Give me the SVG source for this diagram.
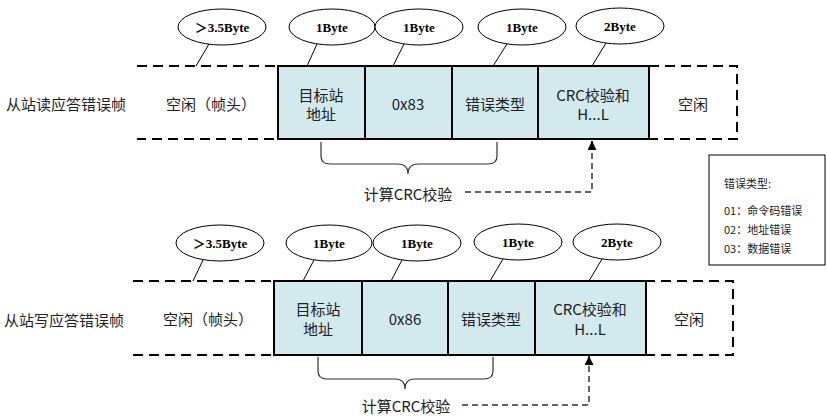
<svg xmlns="http://www.w3.org/2000/svg" width="827" height="416" viewBox="0 0 827 416">
<style>
.t{font-family:"Noto Sans CJK SC","Noto Sans",sans-serif;font-size:15px;fill:#222;dominant-baseline:central}
.c{text-anchor:middle}
.b{font-family:"Liberation Serif","Noto Sans CJK SC",serif;font-size:13px;font-weight:bold;fill:#000;text-anchor:middle;dominant-baseline:central}
.l{font-family:"Noto Sans CJK SC","Noto Sans",sans-serif;font-size:11px;fill:#222;dominant-baseline:central}
.frame{fill:none;stroke:#000;stroke-width:2;stroke-dasharray:10 6}
.cell{fill:#D2E9EE;stroke:#000;stroke-width:2}
.ell{fill:#fff;stroke:#000;stroke-width:1}
.lead{stroke:#000;stroke-width:1;fill:none}
.brace{fill:none;stroke:#333;stroke-width:1.2}
.dash{fill:none;stroke:#333;stroke-width:1.5;stroke-dasharray:6 4}
</style>
<defs>
<marker id="arr" viewBox="0 0 10 10" refX="10" refY="5" markerWidth="9" markerHeight="9" markerUnits="userSpaceOnUse" orient="auto">
<path d="M0,0 L10,5 L0,10 z" fill="#000"/>
</marker>
</defs>

<!-- Row 1 -->
<g id="row1-label"><text class="t" x="6" y="103">从站读应答错误帧</text></g>
<g id="row1-frame"><path class="frame" d="M137,66 H737 V139 H137"/></g>
<g id="row1-idle-head"><text class="t" x="166" y="103">空闲（帧头）</text></g>
<g id="row1-addr"><rect class="cell" x="278" y="66" width="87" height="73"/><text class="t c" x="321" y="94">目标站</text><text class="t c" x="321" y="113">地址</text></g>
<g id="row1-func"><rect class="cell" x="365" y="66" width="87" height="73"/><text class="t c" x="408" y="103">0x83</text></g>
<g id="row1-err"><rect class="cell" x="452" y="66" width="86" height="73"/><text class="t c" x="495" y="103">错误类型</text></g>
<g id="row1-crc"><rect class="cell" x="538" y="66" width="111" height="73"/><text class="t c" x="593" y="94">CRC校验和</text><text class="t c" x="593" y="113">H...L</text></g>
<g id="row1-idle"><text class="t c" x="693" y="103">空闲</text></g>

<g id="row1-e0"><ellipse class="ell" cx="222" cy="27" rx="44" ry="18"/><text class="b" x="222" y="27">＞3.5Byte</text></g>
<g id="row1-e1"><ellipse class="ell" cx="332" cy="27" rx="43" ry="18"/><text class="b" x="332" y="27">1Byte</text></g>
<g id="row1-e2"><ellipse class="ell" cx="419" cy="27" rx="44" ry="18"/><text class="b" x="419" y="27">1Byte</text></g>
<g id="row1-e3"><ellipse class="ell" cx="522" cy="27" rx="44" ry="18"/><text class="b" x="522" y="27">1Byte</text></g>
<g id="row1-e4"><ellipse class="ell" cx="620" cy="26" rx="44" ry="18"/><text class="b" x="620" y="26">2Byte</text></g>

<g id="row1-crc-label"><text class="t c" x="408" y="193">计算CRC校验</text></g>

<!-- Row 2 -->
<g id="row2-label"><text class="t" x="4" y="319">从站写应答错误帧</text></g>
<g id="row2-frame"><path class="frame" d="M133,281 H733 V355 H133"/></g>
<g id="row2-idle-head"><text class="t" x="163" y="318">空闲（帧头）</text></g>
<g id="row2-addr"><rect class="cell" x="274" y="281" width="88" height="74"/><text class="t c" x="318" y="308">目标站</text><text class="t c" x="318" y="328">地址</text></g>
<g id="row2-func"><rect class="cell" x="362" y="281" width="86" height="74"/><text class="t c" x="405" y="318">0x86</text></g>
<g id="row2-err"><rect class="cell" x="448" y="281" width="87" height="74"/><text class="t c" x="491" y="318">错误类型</text></g>
<g id="row2-crc"><rect class="cell" x="535" y="281" width="111" height="74"/><text class="t c" x="590" y="308">CRC校验和</text><text class="t c" x="590" y="328">H...L</text></g>
<g id="row2-idle"><text class="t c" x="689" y="318">空闲</text></g>

<g id="row2-e0"><ellipse class="ell" cx="220" cy="243" rx="44" ry="18"/><text class="b" x="220" y="243">＞3.5Byte</text></g>
<g id="row2-e1"><ellipse class="ell" cx="329" cy="243" rx="43" ry="18"/><text class="b" x="329" y="243">1Byte</text></g>
<g id="row2-e2"><ellipse class="ell" cx="417" cy="243" rx="44" ry="18"/><text class="b" x="417" y="243">1Byte</text></g>
<g id="row2-e3"><ellipse class="ell" cx="518" cy="242" rx="44" ry="18"/><text class="b" x="518" y="242">1Byte</text></g>
<g id="row2-e4"><ellipse class="ell" cx="617" cy="242" rx="44" ry="18"/><text class="b" x="617" y="242">2Byte</text></g>

<g id="row2-crc-label"><text class="t c" x="406" y="405">计算CRC校验</text></g>

<!-- Legend -->
<g id="legend">
<rect x="709" y="155" width="116" height="110" fill="#fff" stroke="#000" stroke-width="1"/>
<text class="l" x="724" y="183">错误类型:</text>
<text class="l" x="724" y="210">01：命令码错误</text>
<text class="l" x="724" y="229">02：地址错误</text>
<text class="l" x="724" y="248">03：数据错误</text>
</g>

<!-- Connectors -->
<g id="connectors">
<path class="lead" d="M209,44 L196,66"/>
<path class="lead" d="M317,44 L307,66"/>
<path class="lead" d="M404,44 L393,66"/>
<path class="lead" d="M507,44 L493,66"/>
<path class="lead" d="M606,43 L592,66"/>
<path class="brace" d="M321,142 V156 Q321,164 330,164 H398 Q408,164 408,174 Q408,164 418,164 H488 Q497,164 497,156 V142"/>
<path class="dash" d="M465,192 H592 V150"/>
<path d="M592,150 V141" stroke="#000" stroke-width="1.5" marker-end="url(#arr)"/>

<path class="lead" d="M203,260 L193,281"/>
<path class="lead" d="M314,260 L303,281"/>
<path class="lead" d="M402,260 L391,281"/>
<path class="lead" d="M503,259 L490,281"/>
<path class="lead" d="M602,259 L589,281"/>
<path class="brace" d="M318,357 V371 Q318,379 327,379 H395 Q405,379 405,389 Q405,379 415,379 H484 Q493,379 493,371 V357"/>
<path class="dash" d="M462,405 H589 V365"/>
<path d="M589,365 V356" stroke="#000" stroke-width="1.5" marker-end="url(#arr)"/>
</g>
</svg>
